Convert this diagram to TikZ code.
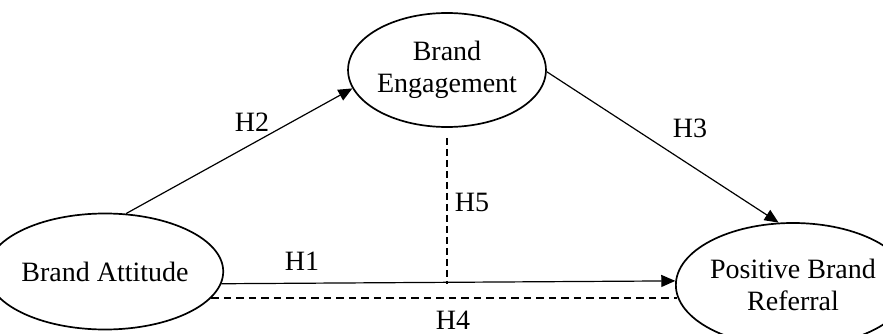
\documentclass[tikz,border=0pt]{standalone}
\usepackage{fontspec}
\setmainfont{Liberation Serif}
\usetikzlibrary{shapes.geometric,arrows.meta,calc}
\begin{document}
\begin{tikzpicture}[x=1pt,y=-1pt,
  construct/.style={ellipse,draw,line width=1.7pt,inner sep=0pt,align=center,
    font=\fontsize{28}{31.5}\selectfont},
  hyp/.style={font=\fontsize{28}{31.5}\selectfont,inner sep=0pt},
  link/.style={line width=1.2pt},
  tip/.style={-{Triangle[length=14pt,width=12pt]}},
  dash7/.style={dash pattern=on 7.5pt off 5pt}]
\useasboundingbox (0,0) rectangle (883,334);
\node[construct,minimum width=200pt,minimum height=116pt] (ba) at (105,271.5) {Brand Attitude};
\node[construct,minimum width=190pt,minimum height=114pt] (eng) at (447,70) {Brand\\Engagement};
\node[construct,minimum width=186pt,minimum height=124pt] (pbr) at (793,285) {Positive Brand\\Referral};
\draw[link,tip] (ba.70.4) -- (eng.191.9);
\draw[link,tip] (eng.-1.8) -- (pbr.103.6);
\draw[link,tip] (ba.-6) -- (pbr.178);
\draw[link,line width=1.5pt,dash7] (ba.-14.5) -- (pbr.186.9 |- ba.-14.5);
\coordinate (h5end) at (eng.south |- ba.-6);
\draw[link,line width=1.5pt,dash pattern=on 7pt off 4pt,shorten <=10pt] (eng.south) -- (h5end);
\node[hyp] (h1) at (302,261) {H1};
\node[hyp] (h2) at (252,122) {H2};
\node[hyp] (h3) at (690,128) {H3};
\node[hyp] (h4) at (453,320) {H4};
\node[hyp] (h5) at (472,202) {H5};
\end{tikzpicture}
\end{document}
